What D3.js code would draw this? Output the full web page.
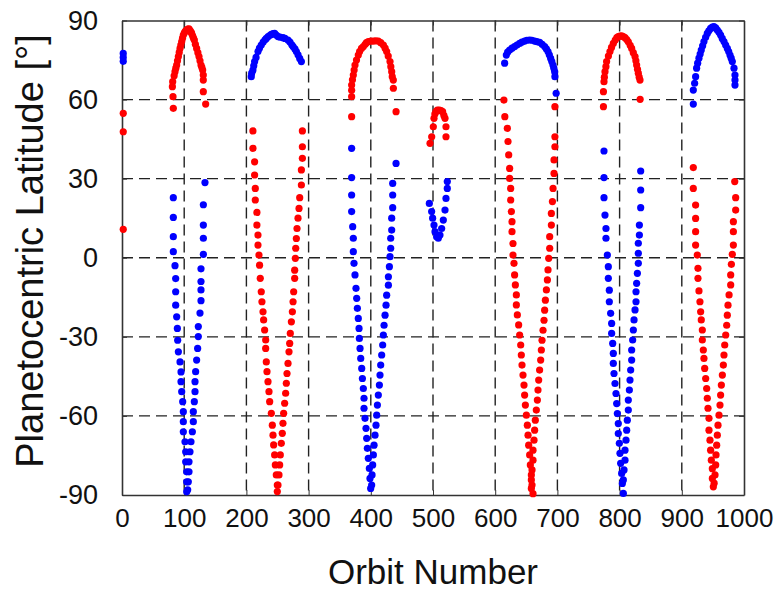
<!DOCTYPE html>
<html>
<head>
<meta charset="utf-8">
<script src="https://cdn.jsdelivr.net/npm/d3@7"></script>
<style>
  html, body { margin: 0; padding: 0; background: #fff; }
  svg text { font-family: "Liberation Sans", Arial, sans-serif; fill: #111; }
</style>
</head>
<body>
<svg id="chart" width="781" height="594"></svg>
<script>
// ── Data: [orbit, latitude] per pass ──────────────────────────────────────
const xTicks = [0, 100, 200, 300, 400, 500, 600, 700, 800, 900, 1000];
const yTicks = [-90, -60, -30, 0, 30, 60, 90];

const blue0 = [[2,77.5],[2,76],[2,74.5]];
const red0  = [[2,54.8],[2,47.8],[2,10.8]];

const red1 = [[81,64.9],[81.5,66.8],[82,61.1],[82.5,56.7],[83.8,69.0],[85.2,70.6],[86.5,71.9],[87.9,73.1],
  [89.2,74.7],[90.6,76.3],[92.0,77.9],[93.3,79.4],[94.6,80.7],[96.0,82.0],[97.3,83.3],[98.6,84.5],[100.2,85.3],
  [101.8,85.9],[103,86.2],[104.0,86.4],[105.5,86.7],[107.7,86.8],[109.5,86.2],[111,85.6],[112.0,85.1],
  [113.5,84.2],[115,83.3],[116.3,82.6],[118,81.0],[120.0,79.4],[122,77.8],[123.8,76.3],[125.4,74.7],
  [127.0,73.1],[128.4,72.2],[129.7,71.2],[130.7,69.3],[130.7,67.4],[130.7,63.0],[134.5,58.3]];
const blue1 = [[82.5,22.8],[82.5,15.3],[82.5,8.0],[82.5,2.3],[85.2,-3.0],[86.3,-7.9],[86.3,-12.9],[86.3,-18.0],
  [87.9,-22.4],[89.0,-26.8],[89.5,-31.3],[90.6,-35.7],[93.3,-39.5],[94.9,-43.3],[94.9,-47.0],[96.0,-50.8],
  [97.6,-54.6],[98.6,-58.4],[98.6,-62.2],[98.6,-66.0],[101.3,-69.8],[102.4,-73.6],[102.4,-77.4],[104.0,-81.2],
  [104.0,-85.0],[104.0,-88.8],
  [133.4,28.5],[130.8,20.1],[130.8,12.4],[130.8,7.4],[130.8,1.3],[127.0,-4.2],[127.0,-9.0],[127.0,-12.2],
  [127.0,-16.3],[125.4,-21.0],[122.7,-26.1],[122.7,-29.9],[121.6,-34.4],[120.0,-38.8],[118.4,-43.2],
  [117.4,-47.0],[117.4,-50.8],[116.3,-54.6],[114.7,-58.4],[114.7,-62.2],[113.1,-66.0],[110.9,-69.8],
  [109.3,-73.6],[107.7,-77.4],[107.7,-81.2],[106.6,-85.0],[105.6,-88.0]];

const blue2 = [[207.8,68.7],[208.5,70.0],[210.5,71.2],[211.8,72.8],[213.2,74.4],[215.5,76.0],[218.6,78.2],
  [221,79.5],[223.9,80.7],[227,81.8],[230,82.7],[232.0,83.2],[235,83.9],[238,84.4],[240.1,84.7],[243,85.0],
  [245.4,85.1],[248,84.5],[250.8,83.9],[254,83.7],[258.8,83.5],[262,83.2],[266.9,82.6],[270,81.8],[273,80.8],
  [275.0,80.1],[278,79.2],[280.3,78.2],[283,77.0],[285.7,75.6],[288.4,74.4]];
const red2 = [[210.5,48.1],[210.5,41.5],[213.2,36.4],[213.2,31.4],[214.3,26.3],[214.3,21.9],[216.9,17.2],
  [216.9,12.4],[218.6,8.6],[218.6,4.8],[220.2,1.0],[221.2,-2.8],[222.3,-7.8],[223.9,-12.9],[225.0,-16.7],
  [226.7,-20.5],[227.7,-23.6],[229.3,-27.4],[231.0,-31.2],[231.0,-34.4],[232.0,-39.5],[233.1,-43.2],
  [234.7,-47.0],[236.3,-50.8],[237.4,-54.6],[240.1,-59.0],[241.7,-63.5],[242.8,-67.3],[243.8,-71.0],
  [245.4,-74.8],[246.5,-78.6],[248.1,-82.4],[249.7,-86.2],[249.7,-88.7],
  [290.0,48.1],[290.0,42.1],[290.0,37.7],[288.4,33.3],[288.4,27.6],[285.7,22.8],[284.6,18.7],[283.0,15.0],
  [281.4,11.1],[280.3,7.3],[279.3,3.6],[278.7,-0.2],[277.6,-4.7],[277.6,-7.8],[276.0,-12.9],[275.0,-16.7],
  [273.9,-20.5],[272.3,-24.3],[270.6,-28.7],[269.6,-32.5],[268.5,-35.7],[266.9,-40.1],[265.3,-43.9],
  [264.2,-47.6],[263.1,-51.4],[261.5,-55.2],[259.9,-59.0],[258.8,-62.8],[257.7,-66.6],[256.1,-70.4],
  [254.5,-74.8],[253.5,-78.6],[252.4,-82.4],[250.8,-86.2]];

const red3 = [[369.2,53.5],[369.2,61.1],[369.2,63.5],[369.2,65.5],[370.5,67.5],[371.9,69.3],[373.2,71.2],
  [374.6,73.1],[377,75.0],[379.9,76.9],[382,78.2],[385,79.4],[388.0,80.1],[391,81.0],[393,81.6],[396.0,82.0],
  [400,82.2],[404.1,82.2],[408,82.3],[412.1,82.2],[416,81.6],[420.2,80.7],[423,79.5],[425.5,78.2],[428,76.5],
  [430.9,74.4],[432.2,72.5],[433.6,70.6],[434.5,68.7],[436.2,67.4],[436.3,64.3],[440.6,55.4]];
const blue3 = [[369.2,41.5],[369.2,30.4],[369.2,23.8],[369.2,17.5],[370.9,11.8],[371.9,7.4],[371.9,2.3],
  [373.0,-2.1],[374.6,-6.5],[376.2,-11.6],[377.3,-15.4],[378.4,-19.2],[379.9,-23.0],[381.1,-26.8],
  [381.6,-30.6],[382.7,-34.4],[383.8,-38.2],[385.4,-42.0],[386.5,-45.8],[388.0,-49.6],[389.1,-53.3],
  [389.1,-57.1],[390.7,-60.9],[392.3,-64.7],[393.4,-68.5],[394.5,-72.3],[396.0,-76.1],[397.7,-79.9],
  [398.7,-83.7],[399.8,-87.5],
  [440.6,35.8],[435.2,28.2],[435.2,23.8],[435.2,19.0],[433.6,15.0],[433.6,10.5],[432.0,7.4],[432.0,3.6],
  [430.9,0.4],[429.9,-3.4],[428.3,-7.2],[428.3,-10.4],[425.5,-14.2],[424.5,-18.0],[422.9,-21.8],[421.3,-25.6],
  [420.2,-29.3],[419.1,-33.1],[417.5,-36.9],[415.9,-40.7],[414.8,-44.5],[413.8,-48.3],[412.1,-52.1],
  [410.6,-55.9],[409.5,-59.7],[408.4,-63.5],[406.8,-67.3],[405.2,-71.1],[404.1,-74.8],[403.0,-78.6],
  [402.0,-82.4],[401.4,-86.2]];

const red4 = [[495.2,43.4],[497.9,45.9],[500.5,49.7],[501.6,52.9],[503,54.5],[504.8,55.4],[507,56.0],
  [510.2,56.0],[513,55.8],[515.5,55.4],[517.5,54.0],[519.3,52.9],[520.9,49.7],[520.9,45.9]];
const blue4 = [[494.1,20.6],[497.8,17.5],[499.4,15.0],[501.6,12.4],[503.2,9.9],[505.8,8.0],[508.5,7.4],
  [511.2,8.6],[513.9,11.1],[516.6,14.3],[519.3,18.1],[520.9,22.5],[523.0,26.3],[523.0,28.9]];

const blue6 = [[615.2,73.8],[617.9,76.9],[620,78.0],[623.2,78.8],[627,79.5],[631.2,80.1],[635,80.7],
  [639.3,81.3],[643,81.8],[647.3,82.2],[651,82.5],[655.4,82.6],[659,82.5],[663.4,82.2],[667,82.0],[671.4,81.7],
  [675.5,81.0],[679.5,80.1],[682.3,79.2],[684.9,78.2],[687,77.0],[689.2,75.6],[691,74.4],[692.9,73.1],
  [694.3,71.9],[695.6,70.6],[696,68.7],[698,62.4]];
const red6 = [[614,59.8],[615.5,53.5],[619.5,49.1],[620.6,44.1],[621.7,39.0],[623.2,33.9],[623.2,30.1],
  [624.9,26.3],[624.9,21.9],[626.0,17.5],[627.0,13.7],[627.0,9.9],[628.6,5.4],[628.6,1.0],[630.2,-2.1],
  [631.2,-6.5],[632.4,-10.3],[634.0,-14.1],[634.0,-17.9],[635.6,-21.7],[637.7,-25.5],[639.3,-29.3],
  [641.0,-33.1],[642.0,-36.9],[643.1,-40.7],[644.7,-44.5],[646.3,-48.3],[647.3,-52.1],[648.5,-55.9],
  [650.1,-59.7],[651.7,-63.5],[652.8,-67.3],[653.8,-71.1],[655.4,-74.8],[656.5,-78.6],[658.1,-82.4],
  [659.2,-86.2],[660.8,-89.5],
  [696,57.3],[696,45.9],[696,42.1],[694.6,37.1],[694.6,32.0],[693,26.3],[692,21.3],[690.3,16.8],
  [690.3,12.4],[687.6,8.0],[687.6,3.6],[686.0,-0.2],[684.9,-4.6],[683.9,-8.4],[682.3,-12.2],[680.7,-16.1],
  [679.5,-19.9],[678.5,-23.7],[676.9,-27.5],[675.3,-31.3],[674.2,-35.0],[673.1,-38.8],[671.4,-42.6],
  [669.9,-46.4],[668.8,-50.2],[667.8,-54.0],[666.1,-57.8],[664.5,-61.6],[663.4,-65.4],[662.4,-69.2],
  [660.8,-73.0],[660.8,-76.8],[659.2,-80.5],[658.1,-84.3],[658.1,-87.5]];

const red7 = [[774,57.3],[774,63.0],[774.9,66.8],[775.5,68.5],[776.5,70.6],[778,72.5],[779.1,74.4],[782,76.5],
  [784.5,78.2],[787,79.8],[789.9,81.3],[793,82.6],[795.5,83.5],[797.9,83.9],[800.5,84.1],[803.3,84.2],
  [806,83.9],[808.7,83.5],[811.5,82.8],[814.0,81.9],[817,80.6],[819.4,79.4],[822,77.8],[824.8,76.3],
  [826.2,74.7],[827.4,73.1],[828.8,71.5],[830.1,70.0],[831.5,68.5],[832.8,67.4],[833,60.1]];
const blue7 = [[774.9,40.5],[774.9,30.4],[774.9,22.8],[776.5,16.2],[778.1,11.1],[778.1,7.4],[780.3,1.0],
  [781.9,-3.4],[781.9,-7.8],[783.5,-12.3],[783.5,-16.7],[785.6,-21.1],[787.2,-24.9],[787.2,-28.7],
  [788.9,-32.5],[789.9,-36.3],[789.9,-40.1],[791.0,-43.9],[792.6,-47.7],[794.2,-51.5],[795.3,-55.3],
  [796.4,-59.1],[797.9,-62.9],[797.9,-66.7],[799.6,-70.4],[800.6,-74.2],[801.7,-78.0],[803.3,-81.8],
  [804.4,-85.6],[806.0,-89.4],
  [833.9,32.9],[833.9,25.7],[833.9,19.0],[831.8,12.4],[831.8,8.6],[830.1,5.5],[830.1,1.7],[830.1,-2.1],
  [828.6,-5.9],[827.4,-9.7],[826.4,-12.9],[826.4,-16.7],[824.8,-19.8],[823.2,-23.6],[822.1,-27.4],
  [821.0,-31.2],[819.4,-35.0],[819.4,-38.8],[817.8,-42.6],[816.7,-46.4],[815.7,-50.2],[814.0,-54.0],
  [814.0,-57.8],[812.4,-61.6],[811.4,-65.4],[810.3,-69.2],[808.7,-73.0],[808.7,-76.8],[807.1,-80.5],
  [806.0,-84.3]];

const blue8 = [[918.5,58.3],[918.5,63.6],[920.6,66.2],[922.2,68.7],[923.8,71.9],[925.5,73.8],[927.6,75.7],
  [929.5,77.3],[931.3,78.8],[933.5,80.4],[935.6,82.0],[938.3,83.6],[941.0,85.1],[943.5,86.1],[946.3,87.0],
  [949,87.5],[951.7,87.7],[954.5,87.2],[957.1,86.4],[959.8,85.5],[962.4,84.5],[965,83.2],[967.8,82.0],
  [970.5,80.7],[973.2,79.4],[975.4,78.2],[977.5,76.9],[979.4,75.7],[981.2,74.4],[983.9,71.9],[985.5,69.3],
  [985.5,67.4],[985.5,65.5]];
const red8 = [[918.5,34.2],[918.5,26.3],[922.2,20.0],[922.2,14.9],[922.2,9.9],[922.2,4.8],[924.9,1.0],
  [926.0,-4.0],[926.0,-7.8],[927.6,-12.6],[929.2,-16.7],[930.3,-20.5],[931.3,-23.6],[933.0,-27.4],
  [933.0,-31.2],[934.6,-35.0],[935.6,-38.2],[936.8,-42.0],[938.4,-45.8],[940.0,-49.6],[941.0,-53.3],
  [942.1,-57.1],[943.7,-60.9],[943.7,-65.4],[945.3,-69.2],[946.3,-73.0],[947.5,-76.8],[949.1,-80.0],
  [949.1,-83.7],[950.7,-86.9],
  [985.1,28.9],[986.6,22.8],[986.6,18.1],[982.9,13.7],[982.9,9.9],[982.9,4.8],[981.2,1.3],[979.7,-2.5],
  [978.6,-6.5],[978.6,-10.3],[976.0,-14.1],[974.3,-18.0],[973.2,-21.8],[972.2,-25.6],[970.6,-29.3],
  [969.0,-33.1],[967.8,-36.9],[966.8,-40.7],[965.2,-44.5],[963.6,-48.3],[962.4,-52.1],[961.4,-55.9],
  [959.8,-59.7],[958.2,-63.5],[957.1,-67.3],[956.1,-71.1],[955.0,-74.8],[954.5,-78.6],[953.4,-82.4],
  [952,-85.5]];

const redPoints  = [].concat(red0, red1, red2, red3, red4, red6, red7, red8);
const bluePoints = [].concat(blue0, blue1, blue2, blue3, blue4, blue6, blue7, blue8);

// ── Layout ────────────────────────────────────────────────────────────────
const svg = d3.select('#chart');
const x = d3.scaleLinear().domain([0, 1000]).range([122, 744]);
const y = d3.scaleLinear().domain([-90, 90]).range([495, 20.5]);

// dashed grid
const grid = svg.append('g')
  .attr('stroke', '#222').attr('stroke-width', 1.4).attr('stroke-dasharray', '11,6');
grid.selectAll('line.gx')
  .data(xTicks.slice(1, -1)).join('line')
  .attr('x1', d => x(d)).attr('x2', d => x(d))
  .attr('y1', y(90)).attr('y2', y(-90));
grid.selectAll('line.gy')
  .data(yTicks.slice(1, -1)).join('line')
  .attr('x1', x(0)).attr('x2', x(1000))
  .attr('y1', d => y(d)).attr('y2', d => y(d));

// axes: bottom/left with labels, top/right mirrored ticks, all inward
const fmt = d => String(d);   // plain hyphen minus, like the original
const axB = svg.append('g').attr('transform', `translate(0,${y(-90)})`)
  .call(d3.axisBottom(x).tickValues(xTicks).tickFormat(fmt).tickSizeInner(-5).tickSizeOuter(0).tickPadding(14));
const axT = svg.append('g').attr('transform', `translate(0,${y(90)})`)
  .call(d3.axisTop(x).tickValues(xTicks).tickFormat('').tickSizeInner(-5).tickSizeOuter(0));
const axL = svg.append('g').attr('transform', `translate(${x(0)},0)`)
  .call(d3.axisLeft(y).tickValues(yTicks).tickFormat(fmt).tickSizeInner(-5).tickSizeOuter(0).tickPadding(24));
const axR = svg.append('g').attr('transform', `translate(${x(1000)},0)`)
  .call(d3.axisRight(y).tickValues(yTicks).tickFormat('').tickSizeInner(-5).tickSizeOuter(0));

[axB, axT, axL, axR].forEach(a => {
  a.select('.domain').attr('stroke', '#333').attr('stroke-width', 1.6);
  a.selectAll('.tick line').attr('stroke', '#333');
});
axB.selectAll('.tick text').attr('font-size', 26).attr('fill', '#111')
  .attr('font-family', '"Liberation Sans", Arial, sans-serif');
axL.selectAll('.tick text').attr('font-size', 27).attr('fill', '#111')
  .attr('font-family', '"Liberation Sans", Arial, sans-serif');

// points
const dots = svg.append('g');
dots.selectAll('circle.r')
  .data(redPoints).join('circle')
  .attr('cx', d => x(d[0])).attr('cy', d => y(d[1]))
  .attr('r', 3.6).attr('fill', '#ff0000');
dots.selectAll('circle.b')
  .data(bluePoints).join('circle')
  .attr('cx', d => x(d[0])).attr('cy', d => y(d[1]))
  .attr('r', 3.6).attr('fill', '#0000ff');

// axis titles
svg.append('text')
  .attr('x', 433).attr('y', 584)
  .attr('text-anchor', 'middle').attr('font-size', 35)
  .text('Orbit Number');
svg.append('text')
  .attr('transform', 'translate(43,251) rotate(-90)')
  .attr('text-anchor', 'middle').attr('font-size', 38)
  .text('Planetocentric Latitude [°]');
</script>
</body>
</html>
